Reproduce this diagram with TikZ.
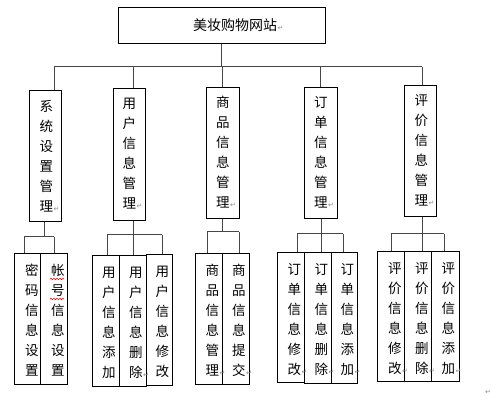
\documentclass[tikz,border=0pt]{standalone}
\usepackage{fontspec}
\newfontfamily\cjk{Noto Sans CJK SC}
\newfontfamily\dejavu{DejaVu Sans}
\usetikzlibrary{decorations.pathmorphing}
\newcommand{\rmk}{\rlap{\hspace{0.5pt}\dejavu\fontsize{7}{7}\selectfont\textcolor{black!45}{↵}}}
\begin{document}
\begin{tikzpicture}[x=1pt,y=-1pt,
  box/.style={draw=black, line width=0.8pt, inner sep=0pt, anchor=north west},
  vt/.style={font=\cjk\fontsize{13.5}{20}\selectfont, align=center, inner sep=0pt},
  conn/.style={draw=black!72, line width=1pt},
  wavy/.style={draw=red, line width=0.5pt, decorate, decoration={snake, amplitude=0.8pt, segment length=3pt}}]
\useasboundingbox (0,0) rectangle (492,403);
% top
\node[box, minimum width=207, minimum height=36] (top) at (118,7) {};
\node[font=\cjk\fontsize{14}{16}\selectfont, inner sep=0pt] (toptxt) at (235,25) {美妆购物网站\rmk};
% level 2
\node[box, minimum width=32, minimum height=131] (n1) at (29,90) {};
\node[box, minimum width=32, minimum height=132] (n2) at (113,88) {};
\node[box, minimum width=33, minimum height=131] (n3) at (206,87) {};
\node[box, minimum width=33, minimum height=131] (n4) at (304,87) {};
\node[box, minimum width=32, minimum height=131] (n5) at (404,85) {};
\node[vt] (t1) at ([shift={(1,0)}]n1.center) {系\\统\\设\\置\\管\\理\rmk};
\node[vt] (t2) at ([shift={(0,-1)}]n2.center) {用\\户\\信\\息\\管\\理\rmk};
\node[vt] (t3) at ([shift={(0,-1)}]n3.center) {商\\品\\信\\息\\管\\理\rmk};
\node[vt] (t4) at ([shift={(0,-1)}]n4.center) {订\\单\\信\\息\\管\\理\rmk};
\node[vt] (t5) at ([shift={(1,-1)}]n5.center) {评\\价\\信\\息\\管\\理\rmk};
% level 3
\node[box, minimum width=26, minimum height=131] (s11) at (14,253) {};
\node[box, minimum width=27, minimum height=131] (s12) at (40,253) {};
\node[box, minimum width=27, minimum height=131] (s21) at (92,255) {};
\node[box, minimum width=27, minimum height=131] (s22) at (119,255) {};
\node[box, minimum width=26, minimum height=131] (s23) at (146,254) {};
\node[box, minimum width=27, minimum height=131] (s31) at (195,253) {};
\node[box, minimum width=27, minimum height=131] (s32) at (222,253) {};
\node[box, minimum width=27, minimum height=130] (s41) at (277,252) {};
\node[box, minimum width=27, minimum height=131] (s42) at (304,252) {};
\node[box, minimum width=26, minimum height=131] (s43) at (331,252) {};
\node[box, minimum width=27, minimum height=130] (s51) at (377,251) {};
\node[box, minimum width=27, minimum height=130] (s52) at (404,251) {};
\node[box, minimum width=28, minimum height=130] (s53) at (431,251) {};
\node[vt] (u11) at ([shift={(4.5,1.5)}]s11.center) {密\\码\\信\\息\\设\\置};
\node[vt] (u12) at ([shift={(4,1.5)}]s12.center) {帐\\号\\信\\息\\设\\置};
\node[vt] (u21) at ([shift={(3,1.5)}]s21.center) {用\\户\\信\\息\\添\\加};
\node[vt] (u22) at ([shift={(3,1.5)}]s22.center) {用\\户\\信\\息\\删\\除\rmk};
\node[vt] (u23) at ([shift={(3,1.5)}]s23.center) {用\\户\\信\\息\\修\\改};
\node[vt] (u31) at ([shift={(3.5,1.5)}]s31.center) {商\\品\\信\\息\\管\\理\rmk};
\node[vt] (u32) at ([shift={(3,1.5)}]s32.center) {商\\品\\信\\息\\提\\交\rmk};
\node[vt] (u41) at ([shift={(3.5,2)}]s41.center) {订\\单\\信\\息\\修\\改\rmk};
\node[vt] (u42) at ([shift={(3.5,2)}]s42.center) {订\\单\\信\\息\\删\\除\rmk};
\node[vt] (u43) at ([shift={(3,2)}]s43.center) {订\\单\\信\\息\\添\\加\rmk};
\node[vt] (u51) at ([shift={(4,2)}]s51.center) {评\\价\\信\\息\\修\\改\rmk};
\node[vt] (u52) at ([shift={(4,2)}]s52.center) {评\\价\\信\\息\\删\\除\rmk};
\node[vt] (u53) at ([shift={(3,2)}]s53.center) {评\\价\\信\\息\\添\\加\rmk};
% spell-check underline
\draw[wavy] (50,279) -- (64,279);
\draw[wavy] (50,299) -- (64,299);
% stray paragraph mark
\node[inner sep=0pt, font=\dejavu\fontsize{7}{7}\selectfont, text=black!45] (pm) at (488,392) {↵};
% top connectors
\coordinate (bL) at (54,67);
\coordinate (bR) at (422,67);
\coordinate (d2) at (133,67);
\coordinate (d3) at (222,67);
\coordinate (d4) at (320,67);
\draw[conn] (bL) -- (bR);
\draw[conn] (top.south) -- (top.south |- bL);
\draw[conn] (bL) -- (bL |- n1.north);
\draw[conn] (d2) -- (d2 |- n2.north);
\draw[conn] (d3) -- (d3 |- n3.north);
\draw[conn] (d4) -- (d4 |- n4.north);
\draw[conn] (bR) -- (bR |- n5.north);
% group 1
\coordinate (g1) at (44,237);
\coordinate (g1l) at (24,237);
\coordinate (g1r) at (54,237);
\draw[conn] (n1.south -| g1) -- (g1);
\draw[conn] (g1l) -- (g1r);
\draw[conn] (g1l) -- (g1l |- s11.north);
\draw[conn] (g1r) -- (g1r |- s12.north);
% group 2
\coordinate (g2) at (133,235);
\coordinate (g2l) at (107,235);
\coordinate (g2r) at (162,235);
\draw[conn] (n2.south -| g2) -- (g2);
\draw[conn] (g2l) -- (g2r);
\draw[conn] (g2l) -- (g2l |- s21.north);
\draw[conn] (g2) -- (g2 |- s22.north);
\draw[conn] (g2r) -- (g2r |- s23.north);
% group 3
\coordinate (g3) at (222,232);
\coordinate (g3l) at (207,232);
\coordinate (g3r) at (239,232);
\draw[conn] (n3.south -| g3) -- (g3);
\draw[conn] (g3l) -- (g3r);
\draw[conn] (g3l) -- (g3l |- s31.north);
\draw[conn] (g3r) -- (g3r |- s32.north);
% group 4
\coordinate (g4) at (321,234);
\coordinate (g4l) at (297,234);
\coordinate (g4r) at (343,234);
\draw[conn] (n4.south -| g4) -- (g4);
\draw[conn] (g4l) -- (g4r);
\draw[conn] (g4l) -- (g4l |- s41.north);
\draw[conn] (g4) -- (g4 |- s42.north);
\draw[conn] (g4r) -- (g4r |- s43.north);
% group 5
\coordinate (g5) at (422,234);
\coordinate (g5l) at (391,234);
\coordinate (g5r) at (444,234);
\draw[conn] (n5.south -| g5) -- (g5);
\draw[conn] (g5l) -- (g5r);
\draw[conn] (g5l) -- (g5l |- s51.north);
\draw[conn] (g5) -- (g5 |- s52.north);
\draw[conn] (g5r) -- (g5r |- s53.north);
\end{tikzpicture}
\end{document}
